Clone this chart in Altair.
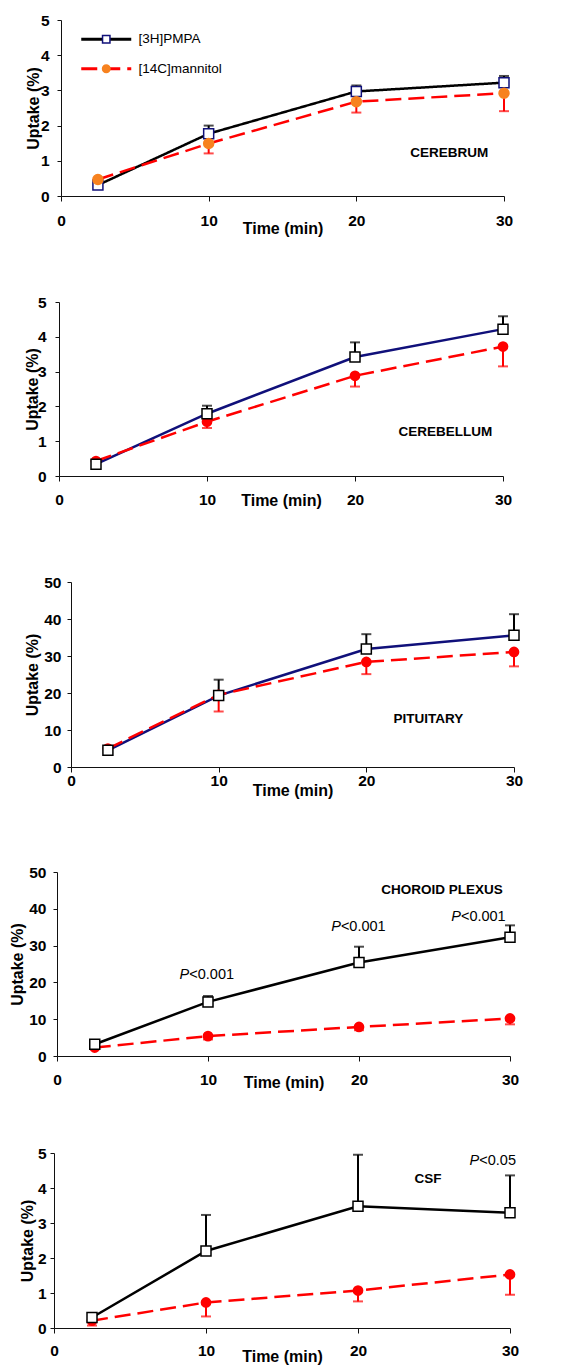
import altair as alt
import pandas as pd

# ---------------- data ----------------
times = [2.5, 10, 20, 30]
series_names = ["[3H]PMPA", "[14C]mannitol"]
panel_names = ["CEREBRUM", "CEREBELLUM", "PITUITARY", "CHOROID PLEXUS", "CSF"]

cerebrum_pmpa = [0.31, 1.77, 2.97, 3.22]
cerebrum_pmpa_upper = [0.31, 2.00, 3.14, 3.41]
cerebrum_mann = [0.47, 1.49, 2.68, 2.92]
cerebrum_mann_lower = [0.47, 1.21, 2.37, 2.41]

cerebellum_pmpa = [0.34, 1.79, 3.42, 4.22]
cerebellum_pmpa_upper = [0.34, 2.02, 3.84, 4.59]
cerebellum_mann = [0.43, 1.56, 2.88, 3.72]
cerebellum_mann_lower = [0.43, 1.38, 2.57, 3.15]

pituitary_pmpa = [4.5, 19.3, 31.9, 35.6]
pituitary_pmpa_upper = [4.5, 23.6, 35.9, 41.3]
pituitary_mann = [5.0, 19.5, 28.4, 31.1]
pituitary_mann_lower = [5.0, 15.0, 25.1, 27.2]

choroid_pmpa = [3.2, 14.7, 25.4, 32.3]
choroid_pmpa_upper = [3.2, 16.3, 29.7, 35.5]
choroid_mann = [2.3, 5.4, 7.9, 10.2]
choroid_mann_lower = [2.3, 4.5, 7.0, 8.6]

csf_pmpa = [0.30, 2.20, 3.48, 3.29]
csf_pmpa_upper = [0.30, 3.23, 4.95, 4.36]
csf_mann = [0.21, 0.73, 1.07, 1.53]
csf_mann_lower = [0.07, 0.33, 0.76, 0.95]

y_max = [5, 5, 50, 50, 5]
y_ticks = [[0, 1, 2, 3, 4, 5], [0, 1, 2, 3, 4, 5], [0, 10, 20, 30, 40, 50],
           [0, 10, 20, 30, 40, 50], [0, 1, 2, 3, 4, 5]]
x_ticks = [0, 10, 20, 30]

region_x = [26.3, 26.1, 24.2, 25.5, 24.6]
region_y = [1.21, 1.26, 13.0, 45.1, 4.27]

p_choroid_x = [8.76, 18.8, 26.75]
p_choroid_y = [22.0, 35.05, 37.9]
p_choroid_txt = ["<0.001", "<0.001", "<0.001"]
p_csf_x = [27.98]
p_csf_y = [4.76]
p_csf_txt = ["<0.05"]

pmpa_sets = [cerebrum_pmpa, cerebellum_pmpa, pituitary_pmpa, choroid_pmpa, csf_pmpa]
pmpa_up_sets = [cerebrum_pmpa_upper, cerebellum_pmpa_upper, pituitary_pmpa_upper,
                choroid_pmpa_upper, csf_pmpa_upper]
mann_sets = [cerebrum_mann, cerebellum_mann, pituitary_mann, choroid_mann, csf_mann]
mann_lo_sets = [cerebrum_mann_lower, cerebellum_mann_lower, pituitary_mann_lower,
                choroid_mann_lower, csf_mann_lower]

# ---------------- style / layout ----------------
FONT = "Liberation Sans"
NAVY = "#10107a"
RED = "#ff0000"
ORANGE = "#f7821f"
BLACK = "#000000"
DASH = [16, 7]

pmpa_line_col = [BLACK, NAVY, NAVY, BLACK, BLACK]
pmpa_mark_col = [NAVY, BLACK, BLACK, BLACK, BLACK]
mann_mark_col = [ORANGE, RED, RED, RED, RED]

axis_off = [7, 5, 17, 3, 0]          # y-axis position inside the panel group
widths = [450, 449, 460, 456, 456]
heights = [176, 183, 194, 192, 175]
extra_top = [0, 9, 9, 8, 0]
ytitle_x = [-28, -27, -38.3, -39.3, -26.3]
ylab_pad = [8, 9, 6, 7, 4]
xlab_y = [24, 23.7, 13.4, 23, 22.7]
xtitle_y = [32, 24, 23.4, 26.6, 28.7]


def panel(k):
    pm, pu, mn, ml = pmpa_sets[k], pmpa_up_sets[k], mann_sets[k], mann_lo_sets[k]
    df = pd.DataFrame({
        "t": times + times,
        "v": pm + mn,
        "end": pu + ml,
        "series": [series_names[0]] * 4 + [series_names[1]] * 4,
        "key": ["sq"] * 4 + ["ci"] * 4,
    })
    d, W, H, e = axis_off[k], widths[k], heights[k], extra_top[k]
    xs = alt.Scale(domain=[0, 30], range=[d, W], nice=False, zero=False)
    ys = alt.Scale(domain=[0, y_max[k]], range=[H, e], nice=False, zero=False)
    x_axis = alt.Axis(values=x_ticks, title="Time (min)", grid=False, tickSize=5,
                      labelPadding=xlab_y[k] - 5, labelBaseline="middle",
                      labelFlush=False, labelOverlap=False,
                      titleY=xtitle_y[k], titleBaseline="middle")
    y_axis = alt.Axis(values=y_ticks[k], title="Uptake (%)", grid=False, tickSize=4,
                      labelPadding=ylab_pad[k], labelFlush=False, labelOverlap=False,
                      offset=-d, titleX=ytitle_x[k], titleAngle=270,
                      titleBaseline="middle", titleY=(H + e) / 2)
    X = alt.X("t:Q", scale=xs, axis=x_axis)
    Y = alt.Y("v:Q", scale=ys, axis=y_axis)
    base = alt.Chart(df)
    is_p = alt.datum.series == series_names[0]
    is_m = alt.datum.series == series_names[1]

    layers = []
    # lines
    if k == 0:
        leg_a = alt.Legend(orient="none", legendX=45.5, legendY=12.5, title=None,
                           symbolType="M-5,0H5", symbolSize=100, symbolStrokeWidth=3,
                           labelOffset=25.5, labelFontSize=13.5, labelFont=FONT,
                           labelColor=BLACK, rowPadding=14.5, padding=0, zindex=0)
        layers.append(base.mark_line(strokeWidth=2.5).encode(
            x=X, y=Y,
            color=alt.Color("series:N", scale=alt.Scale(domain=series_names,
                                                        range=[BLACK, RED]), legend=leg_a),
            strokeDash=alt.StrokeDash("series:N", scale=alt.Scale(
                domain=series_names, range=[[1, 0], DASH]), legend=leg_a),
        ))
    else:
        layers.append(base.transform_filter(is_p).mark_line(
            strokeWidth=2.5, color=pmpa_line_col[k]).encode(x=X, y=Y))
        layers.append(base.transform_filter(is_m).mark_line(
            strokeWidth=2.5, color=RED, strokeDash=DASH).encode(x=X, y=Y))
    # error bars
    for flt, col in ((is_p, BLACK), (is_m, RED)):
        layers.append(base.transform_filter(flt).mark_rule(
            color=col, strokeWidth=2).encode(x=X, y=Y, y2="end:Q"))
        layers.append(base.transform_filter(flt).mark_tick(
            color=col, thickness=2, size=10, orient="horizontal").encode(
            x=X, y=alt.Y("end:Q", scale=ys, axis=y_axis)))
    # markers
    if k == 0:
        leg_b = alt.Legend(orient="none", legendX=45.5, legendY=12.5, title=None,
                           symbolSize=55, symbolStrokeWidth=1.5, labelExpr="''",
                           labelFontSize=13.5, labelFont=FONT, rowPadding=14.5,
                           padding=0, zindex=1)
        layers.append(base.mark_point(strokeWidth=1.5, opacity=1, size=100).encode(
            x=X, y=Y,
            shape=alt.Shape("key:N", scale=alt.Scale(domain=["sq", "ci"],
                                                     range=["square", "circle"]), legend=leg_b),
            fill=alt.Fill("key:N", scale=alt.Scale(domain=["sq", "ci"],
                                                   range=["white", ORANGE]), legend=leg_b),
            stroke=alt.Stroke("key:N", scale=alt.Scale(domain=["sq", "ci"],
                                                       range=[NAVY, ORANGE]), legend=leg_b),
        ))
    else:
        layers.append(base.transform_filter(is_m).mark_point(
            shape="circle", size=115, filled=True, opacity=1,
            color=mann_mark_col[k]).encode(x=X, y=Y))
        layers.append(base.transform_filter(is_p).mark_point(
            shape="square", size=100, fill="white", stroke=pmpa_mark_col[k],
            strokeWidth=1.5, opacity=1).encode(x=X, y=Y))
    # region label
    reg = pd.DataFrame({"x": [region_x[k]], "y": [region_y[k]], "txt": [panel_names[k]]})
    layers.append(alt.Chart(reg).mark_text(
        font=FONT, fontSize=13.5, fontWeight="bold", color=BLACK,
        align="center", baseline="middle").encode(
        x=alt.X("x:Q", scale=xs, axis=x_axis), y=alt.Y("y:Q", scale=ys, axis=y_axis),
        text="txt:N"))
    # P annotations
    if k in (3, 4):
        px, py, pt = (p_choroid_x, p_choroid_y, p_choroid_txt) if k == 3 else \
            (p_csf_x, p_csf_y, p_csf_txt)
        pdf = pd.DataFrame({"x": px, "y": py, "txt": pt, "p": ["P"] * len(px)})
        pX = alt.X("x:Q", scale=xs, axis=x_axis)
        pY = alt.Y("y:Q", scale=ys, axis=y_axis)
        layers.append(alt.Chart(pdf).mark_text(
            font=FONT, fontSize=14.5, fontStyle="italic", color=BLACK,
            align="right", baseline="middle").encode(x=pX, y=pY, text="p:N"))
        layers.append(alt.Chart(pdf).mark_text(
            font=FONT, fontSize=14.5, color=BLACK,
            align="left", baseline="middle").encode(x=pX, y=pY, text="txt:N"))
    return alt.layer(*layers).properties(width=W, height=H)


chart = alt.vconcat(*[panel(k) for k in range(5)], spacing=97, bounds="flush").properties(
    padding={"left": 1, "top": 5, "right": 5, "bottom": 0}
).configure_view(stroke=None).configure_axis(
    domainColor="#111111", domainWidth=1, tickColor="#111111", tickWidth=1,
    labelFont=FONT, labelFontSize=15.5, labelFontWeight="bold", labelColor=BLACK,
    titleFont=FONT, titleFontSize=16, titleFontWeight="bold", titleColor=BLACK,
).configure_legend(labelFont=FONT)

chart.save("out.html", embed_options={"renderer": "svg", "actions": False})
